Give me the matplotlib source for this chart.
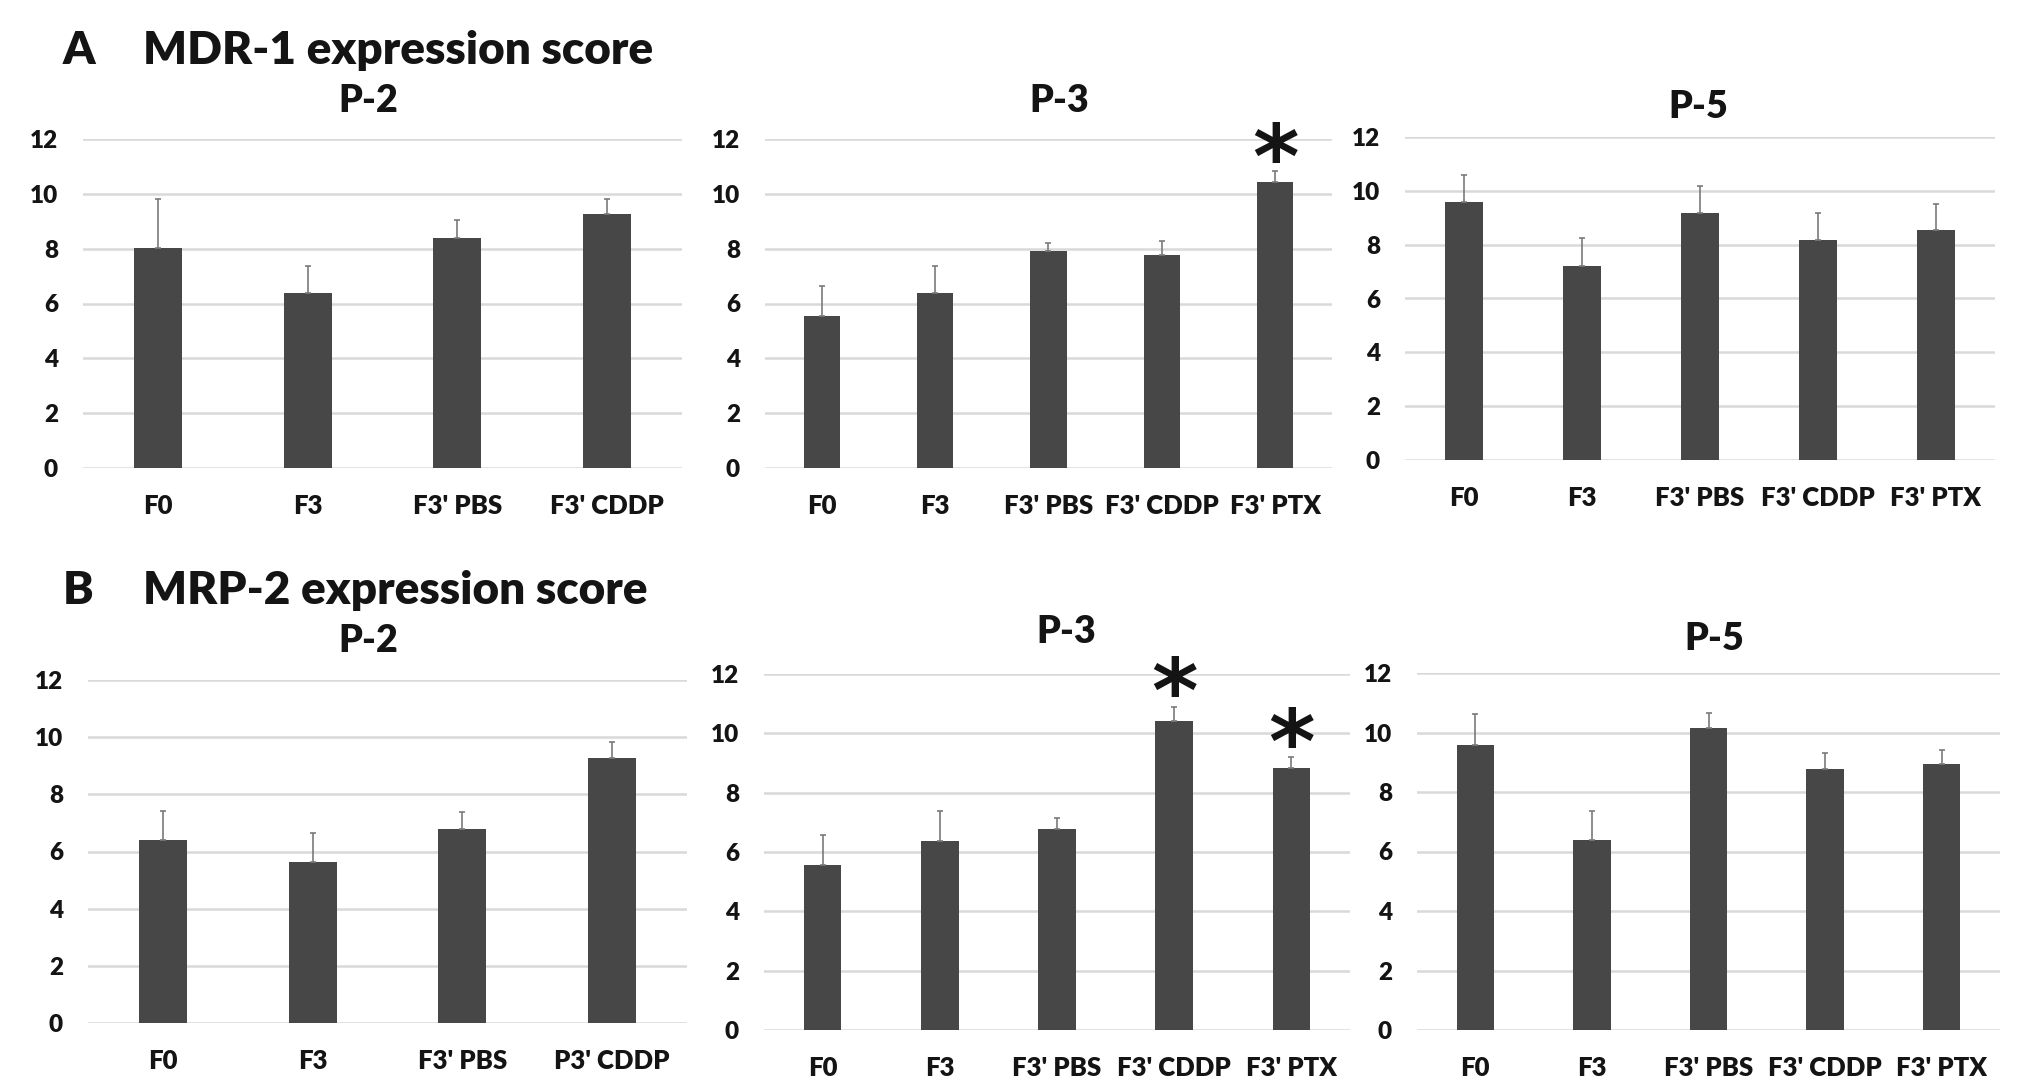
import matplotlib
matplotlib.use("Agg")
import matplotlib.pyplot as plt
import numpy as np

plt.rcParams["font.family"] = ["Lato", "DejaVu Sans"]
plt.rcParams["font.weight"] = "heavy"

# ------------------------------------------------------------------ data -----
CATS_P2 = ["F0", "F3", "F3' PBS", "F3' CDDP"]
CATS_P2_B = ["F0", "F3", "F3' PBS", "P3' CDDP"]
CATS_5 = ["F0", "F3", "F3' PBS", "F3' CDDP", "F3' PTX"]

MDR1_P2 = [8.04, 6.39, 8.40, 9.26]
MDR1_P2_ERR = [1.78, 0.99, 0.64, 0.56]
MDR1_P3 = [5.56, 6.39, 7.90, 7.78, 10.42]
MDR1_P3_ERR = [1.07, 0.99, 0.32, 0.50, 0.42]
MDR1_P3_SIG = [0, 0, 0, 0, 1]
MDR1_P5 = [9.59, 7.21, 9.18, 8.18, 8.53]
MDR1_P5_ERR = [1.00, 1.03, 1.00, 1.00, 0.99]

MRP2_P2 = [6.41, 5.64, 6.79, 9.26]
MRP2_P2_ERR = [1.00, 1.01, 0.58, 0.57]
MRP2_P3 = [5.55, 6.36, 6.78, 10.40, 8.83]
MRP2_P3_ERR = [1.03, 1.03, 0.38, 0.50, 0.36]
MRP2_P3_SIG = [0, 0, 0, 1, 1]
MRP2_P5 = [9.57, 6.40, 10.15, 8.77, 8.93]
MRP2_P5_ERR = [1.05, 0.97, 0.51, 0.54, 0.48]

# --------------------------------------------------------------- styling -----
W, H = 2031, 1089
C_BAR = "#474747"
C_GRID = "#d9d9d9"
C_ERR = "#7a7a7a"
C_TXT = "#141414"
STAR_FS = 64

fig = plt.figure(figsize=(W / 100, H / 100), dpi=100)

# panel rect in pixels (left, top, right, bottom), subtitle centre (x, y)
panels = [
    (CATS_P2, MDR1_P2, MDR1_P2_ERR, None, (83, 139, 682, 468), "P-2", (368, 99)),
    (CATS_5, MDR1_P3, MDR1_P3_ERR, MDR1_P3_SIG, (765, 139, 1332, 468), "P-3", (1059, 99)),
    (CATS_5, MDR1_P5, MDR1_P5_ERR, None, (1405, 137, 1995, 460), "P-5", (1698, 105)),
    (CATS_P2_B, MRP2_P2, MRP2_P2_ERR, None, (88, 680, 687, 1023), "P-2", (368, 639)),
    (CATS_5, MRP2_P3, MRP2_P3_ERR, MRP2_P3_SIG, (764, 674, 1350, 1030), "P-3", (1066, 630)),
    (CATS_5, MRP2_P5, MRP2_P5_ERR, None, (1417, 673, 2000, 1030), "P-5", (1714, 637)),
]

for cats, vals, err, sig, (l, t, r, b), sub, (sx, sy) in panels:
    ax = fig.add_axes([l / W, 1 - b / H, (r - l) / W, (b - t) / H])
    x = np.arange(len(cats))
    ax.bar(x, vals, width=0.32, color=C_BAR, zorder=3)
    ax.errorbar(x, vals, yerr=[np.zeros(len(vals)), err], fmt="none",
                ecolor=C_ERR, elinewidth=1.2, capsize=2.5, capthick=1.2, zorder=4)
    if sig is not None:
        for xi, v, e, s in zip(x, vals, err, sig):
            if s:
                # shift baseline down so the glyph sits just above the error cap
                ax.annotate("*", xy=(xi, v + e + 0.85),
                            xytext=(0, -0.455 * STAR_FS), textcoords="offset points",
                            ha="center", va="baseline", fontsize=STAR_FS,
                            color=C_TXT, family="DejaVu Sans",
                            fontweight="bold", annotation_clip=False)
    ax.set_xlim(-0.5, len(cats) - 0.5)
    ax.set_ylim(0, 12)
    ax.set_yticks(range(0, 13, 2))
    ax.set_xticks(x)
    ax.set_xticklabels(cats)
    ax.grid(axis="y", color=C_GRID, linewidth=1.8, zorder=0)
    ax.set_axisbelow(True)
    for sp in ax.spines.values():
        sp.set_visible(False)
    ax.tick_params(axis="y", length=0, pad=18, labelsize=17.5, labelcolor=C_TXT)
    ax.tick_params(axis="x", length=0, pad=19, labelsize=18.5, labelcolor=C_TXT)
    fig.text(sx / W, 1 - (sy + 13) / H, sub, ha="center", va="baseline",
             fontsize=27, color=C_TXT)

# ------------------------------------------------------------ headings ------
for letter, title, cy in [("A", "MDR-1 expression score", 48),
                          ("B", "MRP-2 expression score", 588)]:
    base = 1 - (cy + 16) / H
    fig.text(63 / W, base, letter, ha="left", va="baseline", fontsize=33,
             color=C_TXT)
    fig.text(143 / W, base, title, ha="left", va="baseline", fontsize=33,
             color=C_TXT)

fig.savefig("out.png", dpi=100, facecolor="white")
